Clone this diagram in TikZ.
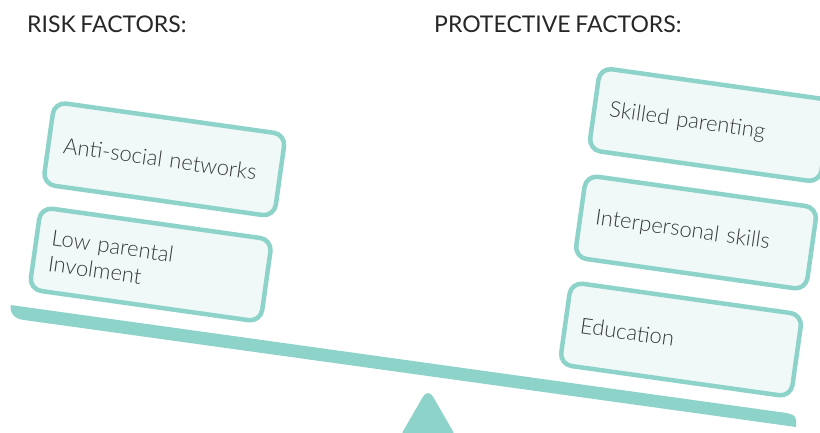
\documentclass[tikz,border=0pt]{standalone}
\usepackage{fontspec}
\setmainfont{Lato}[UprightFont=* Light,WordSpace=0.8]
\newfontfamily\headfont{Lato}[WordSpace=0.8]
\definecolor{teal1}{HTML}{8DD3CA}
\definecolor{tealfill}{HTML}{F0F9F8}
\definecolor{ink}{HTML}{3A3A3C}
\tikzset{
  factor/.style={draw=teal1,line width=4.5pt,fill=tealfill,rounded corners=12pt,rotate=-8,
    minimum width=233.5pt,minimum height=83pt,text width=203pt,inner xsep=15pt,inner ysep=0pt,
    align=left,text=ink,font=\fontsize{22}{26}\selectfont},
  heading/.style={anchor=base west,inner sep=0pt,text=black!85,font=\headfont\fontsize{23}{26}\selectfont},
  teal shape/.style={fill=teal1,draw=none}
}
\begin{document}
\begin{tikzpicture}[x=1pt,y=-1pt]
\useasboundingbox (0,0) rectangle (820,432);
\clip (0,0) rectangle (820,432);
\node[heading] (risk) at (27,32) {RISK FACTORS:};
\node[heading] (protect) at (434,32) {PROTECTIVE FACTORS:};
\node[factor] (anti) at (164.3,159.3) {Anti-social networks};
\node[factor] (low) at (150.7,264.5) {Low parental\\Involment};
\node[factor] (skilled) at (710,125) {Skilled parenting};
\node[factor] (inter) at (696,232.5) {Interpersonal skills};
\node[factor] (edu) at (681,339.5) {Education};
\path[teal shape] (10.5,305) -- (783,412.5) .. controls (791,413.5) and (796,415) .. (796,420)
  -- (796,427) -- (24,320) .. controls (15,319) and (10,314) .. (10.5,305) -- cycle;
\path[teal shape,rounded corners=10pt] (428,388) -- (458,440) -- (398,440) -- cycle;
\end{tikzpicture}
\end{document}
